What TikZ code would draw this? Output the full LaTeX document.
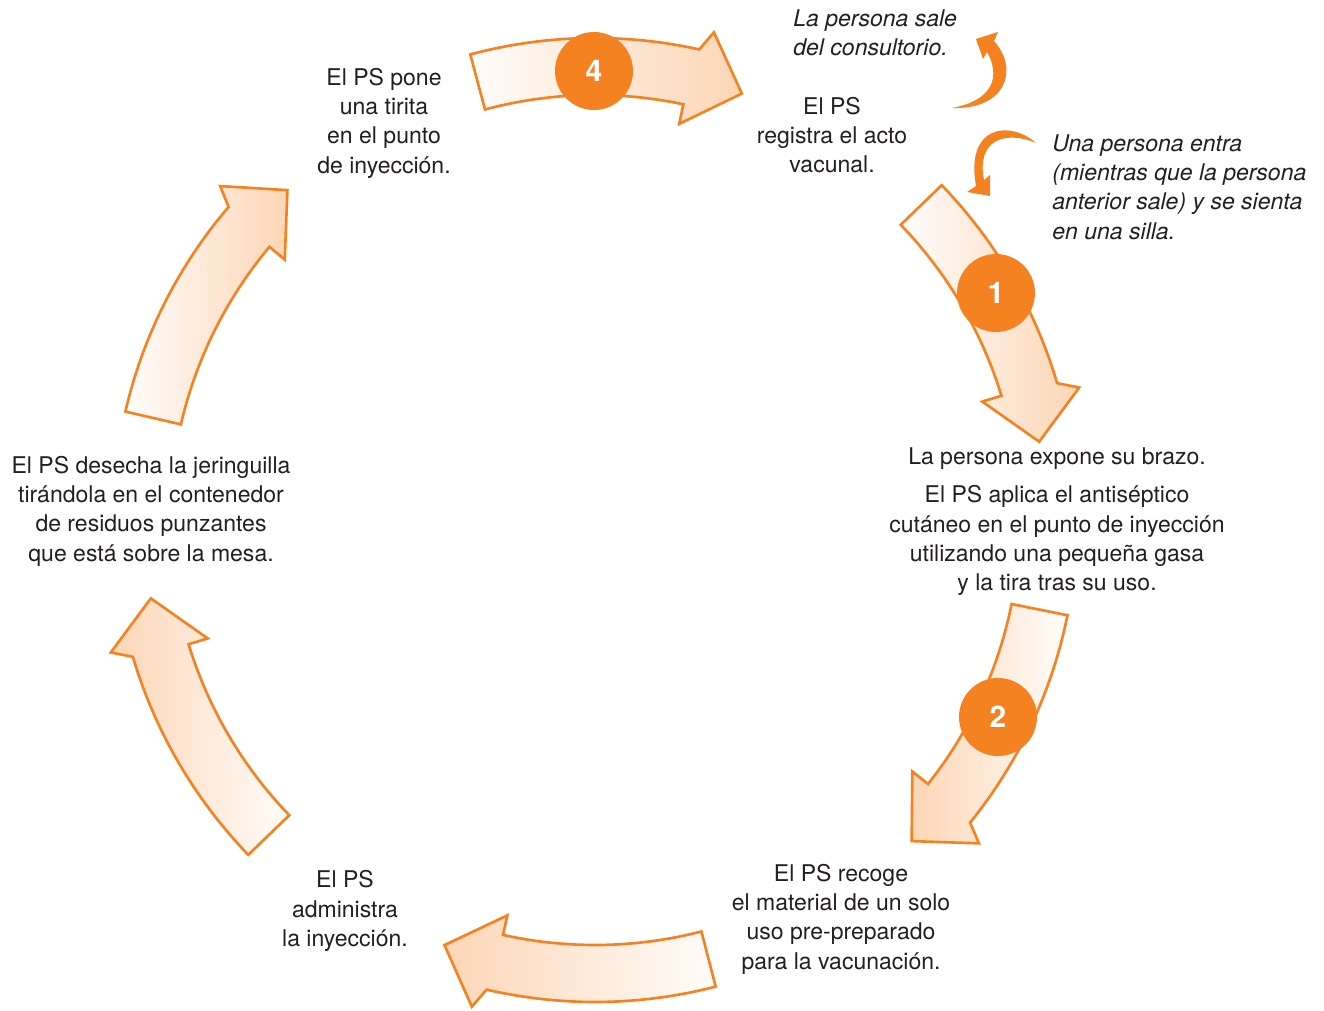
\documentclass[tikz,border=0pt]{standalone}
\usepackage{fontspec}
\setmainfont{TeX Gyre Heros}
\usepackage{tikz}
\usetikzlibrary{positioning}
\definecolor{vacorange}{HTML}{F58220}
\definecolor{vacpeach}{HTML}{FCD6B6}
\definecolor{vacpale}{HTML}{FFFCFA}
\definecolor{vactext}{HTML}{231F20}

\begin{document}
\begin{tikzpicture}[x=0.02cm, y=-0.02cm,
    steptext/.style={align=center, inner sep=0pt, text=vactext, font=\fontsize{13.1}{16.7}\selectfont},
    note/.style={align=left, anchor=west, inner sep=0pt, text=vactext, font=\fontsize{13.1}{16.7}\selectfont\itshape},
    badge/.style={circle, fill=vacorange, minimum size=1.56cm, inner sep=0pt, text=white, font=\fontsize{17}{20}\selectfont\bfseries},
    cyclearrow/.style={draw=vacorange, line width=1.5pt, line join=miter},
    turnarrow/.style={fill=vacorange}
]
    \useasboundingbox (0,0) rectangle (1324,1010);

    \begin{scope}[shift={(595,520)}]
        \foreach \ang/\lc/\rc in {-44/vacpale/vacpeach, 11.4/vacpeach/vacpale, 75.5/vacpeach/vacpale,
                                  136/vacpeach/vacpale, 193/vacpale/vacpeach, 255/vacpale/vacpeach}
            \draw[cyclearrow, left color=\lc, right color=\rc]
                plot[domain=0:27.5, samples=25] ({482*cos(\ang+\x)}, {482*sin(\ang+\x)})
                -- ({\ang+28.7}:502) -- ({\ang+34}:451) -- ({\ang+27}:405)
                -- plot[domain=0:27, samples=25] ({425*cos(\ang+27-\x)}, {425*sin(\ang+27-\x)})
                -- cycle;
    \end{scope}

    \node[badge] (n4) at (594,71)  {4};
    \node[badge] (n1) at (996,293) {1};
    \node[badge] (n2) at (998,717) {2};

    \fill[turnarrow] (952,108) .. controls (1005,110) and (1020,70) .. (994,41)
        -- (998,32) -- (976,39) -- (983,59) -- (987,52)
        .. controls (1000,75) and (995,100) .. (952,108) -- cycle;
    \fill[turnarrow] (1036,143) .. controls (1010,120) and (965,125) .. (976,186)
        -- (967,192) -- (990,196) -- (990,175) -- (984,180)
        .. controls (976,140) and (1005,130) .. (1036,143) -- cycle;

    \node[steptext] (tirita) at (384,123) {El PS pone\\una tirita\\en el punto\\de inyección.};
    \node[steptext] (registro) at (832,135) {El PS\\registra el acto\\vacunal.};
    \node[note] (sale) at (793,33) {La persona sale\\del consultorio.};
    \node[note] (entra) at (1052,187) {Una persona entra\\(mientras que la persona\\anterior sale) y se sienta\\en una silla.};
    \node[steptext] (brazo) at (1057,459) {La persona expone su brazo.};
    \node[steptext, below=0.3cm of brazo] (antiseptico) {El PS aplica el antiséptico\\cutáneo en el punto de inyección\\utilizando una pequeña gasa\\y la tira tras su uso.};
    \node[steptext] (material) at (841,919) {El PS recoge\\el material de un solo\\uso pre-preparado\\para la vacunación.};
    \node[steptext] (inyeccion) at (345,911) {El PS\\administra\\la inyección.};
    \node[steptext] (jeringuilla) at (151,511) {El PS desecha la jeringuilla\\tirándola en el contenedor\\de residuos punzantes\\que está sobre la mesa.};
\end{tikzpicture}
\end{document}
